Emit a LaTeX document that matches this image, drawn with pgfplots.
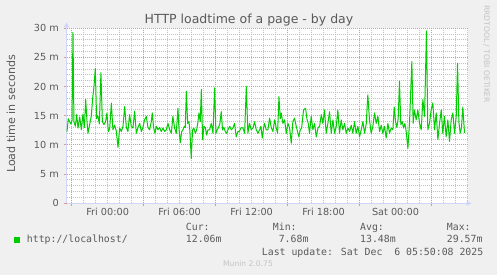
\documentclass[border=0pt]{standalone}
\usepackage{fontspec}
\setmainfont{DejaVu Sans}
\newfontfamily\monofont{DejaVu Sans Mono}
\usepackage{pgfplots}
\pgfplotsset{compat=1.18}
\usetikzlibrary{arrows.meta}
\definecolor{bgcol}{RGB}{240,240,240}
\definecolor{fontcol}{RGB}{90,90,90}
\definecolor{axiscol}{RGB}{207,214,248}
\definecolor{mgridcol}{RGB}{222,150,150}
\definecolor{gridcol}{RGB}{195,195,195}
\definecolor{linecol}{RGB}{0,204,0}
\definecolor{wmcol}{RGB}{195,195,195}
\newcommand{\legfont}{\monofont\fontsize{9.85bp}{11bp}\selectfont}
\begin{document}
\begin{tikzpicture}
\fill[bgcol] (0,0) rectangle (497bp,275bp);
\begin{axis}[
  at={(66.5bp,71.7bp)}, anchor=south west,
  scale only axis, width=401bp, height=175bp,
  xmin=-3.43, xmax=30, ymin=0, ymax=30,
  axis background/.style={fill=white},
  axis x line*=bottom, axis y line*=left,
  axis line style={draw=axiscol, line width=1bp},
  x axis line style={-{Triangle[length=5bp,width=5bp]}, shorten >=-4bp},
  y axis line style={-{Triangle[length=5bp,width=5bp]}, shorten >=-6bp},
  xtick={-3,3,9,15,21,27},
  xticklabels={},
  extra x ticks={0,6,12,18,24},
  extra x tick labels={Fri 00:00,Fri 06:00,Fri 12:00,Fri 18:00,Sat 00:00},
  extra x tick style={grid=none, major tick length=0pt},
  ytick={0,5,...,30},
  yticklabels={0,5 m,10 m,15 m,20 m,25 m,30 m},
  minor xtick={-3,...,30},
  minor ytick={1,...,29},
  xmajorgrids=true, ymajorgrids=true, xminorgrids=true, yminorgrids=true,
  major grid style={draw=mgridcol, line width=1bp, dash pattern=on 1bp off 1bp},
  minor grid style={draw=gridcol, line width=1bp, dash pattern=on 1bp off 1bp},
  tick style={draw=mgridcol, line width=1bp},
  tick align=outside, major tick length=3bp, minor tick length=0pt,
  tick label style={font=\fontsize{9.7bp}{11bp}\selectfont, text=fontcol},
  yticklabel style={inner sep=0pt, anchor=east, xshift=-4.5bp},
  xticklabel style={inner sep=0pt, anchor=north, yshift=-4.5bp},
  clip=false,
]
\addplot[linecol, line width=1bp, line join=round] table {
h v
-3.39 12.3
-3.28 14.5
-3.17 14.0
-3.06 13.6
-2.97 14.2
-2.89 29.3
-2.81 14.0
-2.69 13.2
-2.58 15.2
-2.47 12.9
-2.33 14.8
-2.19 12.6
-2.06 15.3
-1.94 13.0
-1.83 17.8
-1.72 14.0
-1.64 12.0
-1.50 13.5
-1.36 15.0
-1.25 18.0
-1.14 20.0
-1.03 23.1
-0.92 14.5
-0.81 15.0
-0.69 13.6
-0.56 22.4
-0.44 14.0
-0.31 13.5
-0.17 14.0
-0.06 15.5
0.06 12.3
0.17 12.8
0.31 17.2
0.44 12.6
0.58 13.4
0.72 12.4
0.86 9.6
1.00 12.9
1.14 12.3
1.28 13.2
1.42 16.6
1.56 13.0
1.69 12.3
1.83 15.2
1.97 13.2
2.11 12.9
2.25 15.8
2.39 12.0
2.53 13.0
2.67 13.7
2.81 12.3
2.94 13.0
3.08 14.3
3.22 14.9
3.36 13.0
3.50 12.6
3.64 14.0
3.72 15.5
3.83 13.0
3.94 12.0
4.06 13.2
4.19 12.6
4.33 13.0
4.47 12.3
4.61 12.9
4.75 12.3
4.89 12.6
5.03 13.7
5.17 12.6
5.31 12.0
5.44 14.9
5.58 12.9
5.72 12.0
5.86 16.3
5.94 13.0
6.06 10.4
6.17 12.3
6.28 12.6
6.39 13.2
6.47 13.0
6.56 19.2
6.67 13.7
6.78 14.0
6.86 12.3
6.97 7.68
7.08 12.6
7.19 12.9
7.31 12.0
7.42 12.6
7.53 14.0
7.61 15.5
7.72 14.0
7.81 19.5
7.92 10.9
8.03 13.2
8.14 13.0
8.25 11.7
8.36 12.6
8.50 12.6
8.64 13.7
8.78 12.0
8.92 19.8
9.03 12.0
9.14 12.6
9.25 13.0
9.36 13.7
9.47 15.7
9.58 12.6
9.69 13.0
9.81 12.3
9.92 12.0
10.03 12.6
10.17 13.2
10.31 12.6
10.44 12.9
10.58 13.7
10.72 11.4
10.86 12.3
10.97 12.3
11.14 13.0
11.28 12.9
11.42 12.0
11.56 20.0
11.69 12.0
11.83 13.7
11.97 12.6
12.11 12.9
12.25 14.0
12.39 12.6
12.53 12.0
12.67 12.6
12.78 13.2
12.89 11.2
13.00 12.9
13.08 13.7
13.22 12.6
13.36 12.6
13.50 14.6
13.64 13.0
13.78 12.3
13.92 14.3
14.06 12.9
14.17 12.0
14.28 18.3
14.39 14.5
14.47 15.5
14.61 13.7
14.75 14.3
14.89 12.0
15.03 13.7
15.17 12.9
15.31 10.3
15.44 14.0
15.58 14.6
15.72 13.2
15.83 12.3
15.94 11.4
16.06 12.6
16.17 12.9
16.33 16.0
16.50 16.3
16.61 14.5
16.72 13.7
16.83 12.0
16.97 14.9
17.11 12.6
17.25 13.7
17.39 11.4
17.53 12.9
17.67 13.2
17.81 15.2
17.94 13.7
18.08 16.0
18.22 12.0
18.36 13.7
18.50 15.7
18.64 12.0
18.78 14.3
18.92 12.0
19.06 13.2
19.19 16.0
19.33 12.0
19.47 14.3
19.61 12.6
19.75 13.7
19.89 12.0
20.03 12.9
20.17 12.3
20.31 13.4
20.44 12.0
20.58 14.0
20.72 12.0
20.86 13.2
21.00 11.4
21.14 12.6
21.28 14.0
21.42 12.0
21.56 13.7
21.69 18.6
21.83 14.3
21.97 12.0
22.11 13.2
22.25 15.5
22.39 13.7
22.53 14.9
22.67 12.3
22.81 13.4
22.94 12.0
23.08 13.2
23.22 11.2
23.36 13.7
23.50 12.0
23.64 12.9
23.78 12.6
23.89 16.5
24.00 14.0
24.11 13.0
24.22 14.5
24.33 20.9
24.44 13.5
24.56 14.0
24.67 12.9
24.78 13.7
24.89 12.3
25.03 9.4
25.17 14.0
25.36 24.3
25.47 13.7
25.58 16.0
25.72 14.3
25.86 16.0
26.00 13.7
26.14 12.6
26.28 17.8
26.42 14.9
26.58 29.57
26.69 12.6
26.83 13.7
26.97 16.0
27.11 17.2
27.25 12.6
27.39 15.5
27.53 10.9
27.67 13.7
27.81 16.0
27.94 12.0
28.08 14.9
28.22 11.4
28.36 14.3
28.50 10.6
28.64 14.3
28.78 15.5
28.92 12.0
29.06 14.9
29.17 24.0
29.28 14.0
29.39 12.0
29.50 13.0
29.61 16.5
29.75 12.06
};
\end{axis}
% title and labels
\node[anchor=base, inner sep=0pt, text=fontcol, font=\fontsize{12.5bp}{14bp}\selectfont] at (249bp,251bp) {HTTP loadtime of a page - by day};
\node[rotate=90, inner sep=0pt, text=fontcol, font=\fontsize{11.1bp}{13bp}\selectfont] at (11bp,161bp) {Load time in seconds};
\node[rotate=-90, anchor=west, inner sep=0pt, text=wmcol, font=\fontsize{7.6bp}{9bp}\selectfont] at (486.7bp,270bp) {RRDTOOL / TOBI OETIKER};
% legend
\fill[linecol] (14bp,32.3bp) rectangle (20bp,38.3bp);
\node[anchor=base west, inner sep=0pt, text=fontcol, font=\legfont] at (26.7bp,32.3bp) {http://localhost/};
\node[anchor=base west, inner sep=0pt, text=fontcol, font=\legfont] at (185.7bp,44.3bp) {Cur:};
\node[anchor=base west, inner sep=0pt, text=fontcol, font=\legfont] at (185.7bp,32.3bp) {12.06m};
\node[anchor=base west, inner sep=0pt, text=fontcol, font=\legfont] at (272.7bp,44.3bp) {Min:};
\node[anchor=base west, inner sep=0pt, text=fontcol, font=\legfont] at (278.6bp,32.3bp) {7.68m};
\node[anchor=base west, inner sep=0pt, text=fontcol, font=\legfont] at (360bp,44.3bp) {Avg:};
\node[anchor=base west, inner sep=0pt, text=fontcol, font=\legfont] at (360bp,32.3bp) {13.48m};
\node[anchor=base west, inner sep=0pt, text=fontcol, font=\legfont] at (446.7bp,44.3bp) {Max:};
\node[anchor=base west, inner sep=0pt, text=fontcol, font=\legfont] at (446.7bp,32.3bp) {29.57m};
\node[anchor=base west, inner sep=0pt, text=fontcol, font=\legfont] at (261.7bp,20bp) {Last update: Sat Dec~~6 05:50:08 2025};
\node[anchor=base, inner sep=0pt, text=wmcol, font=\fontsize{7.6bp}{9bp}\selectfont] at (248bp,8.3bp) {Munin 2.0.75};
\pgfresetboundingbox
\path (0,0) rectangle (497bp,275bp);
\end{tikzpicture}
\end{document}
